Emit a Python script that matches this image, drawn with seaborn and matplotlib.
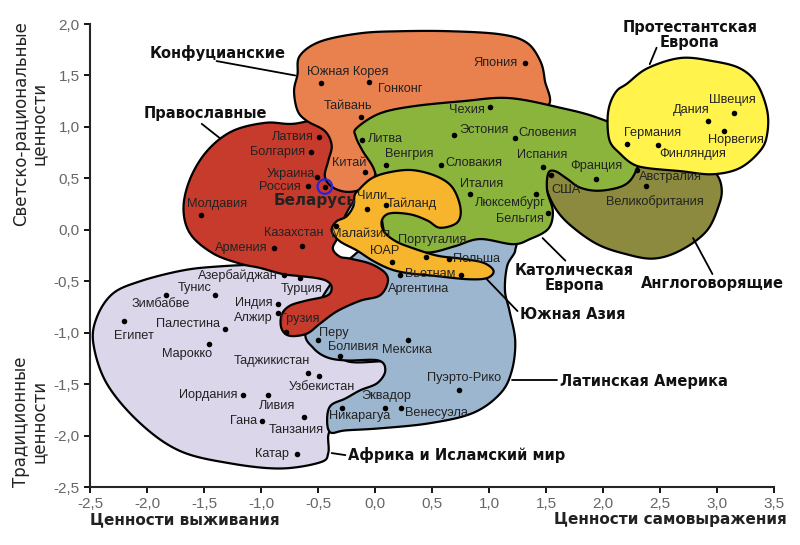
import numpy as np
import pandas as pd
import seaborn as sns
import matplotlib.pyplot as plt
from matplotlib.ticker import FuncFormatter, MultipleLocator

# ------------------------------------------|
# Data: countries on the cultural map
# ------------------------------------------|
countries = ['Южная Корея', 'Гонконг', 'Тайвань', 'Япония', 'Латвия', 'Болгария',
             'Украина', 'Россия', 'Беларусь', 'Китай', 'Молдавия', 'Казахстан',
             'Армения', 'Литва', 'Венгрия', 'Чехия', 'Эстония', 'Словения',
             'Словакия', 'Испания', 'США', 'Франция', 'Италия', 'Люксембург',
             'Бельгия', 'Германия', 'Финляндия', 'Дания', 'Швеция', 'Норвегия',
             'Австралия', 'Великобритания', 'Чили', 'Тайланд', 'Малайзия', 'ЮАР',
             'Португалия', 'Польша', 'Вьетнам', 'Аргентина', 'Азербайджан', 'Турция',
             'Тунис', 'Зимбабве', 'Египет', 'Палестина', 'Марокко', 'Индия',
             'Алжир', 'Грузия', 'Перу', 'Боливия', 'Мексика', 'Таджикистан',
             'Узбекистан', 'Иордания', 'Ливия', 'Гана', 'Танзания', 'Катар',
             'Никарагуа', 'Эквадор', 'Венесуэла', 'Пуэрто-Рико']
survival_self = [-0.47, -0.05, -0.12, 1.32, -0.49, -0.56,
                 -0.51, -0.59, -0.44, -0.09, -1.53, -0.64,
                 -0.89, -0.11, 0.10, 1.01, 0.69, 1.23,
                 0.58, 1.47, 1.54, 1.94, 0.83, 1.41,
                 1.52, 2.21, 2.48, 2.92, 3.15, 3.06,
                 2.30, 2.38, -0.07, 0.10, -0.34, 0.15,
                 0.45, 0.65, 0.75, 0.22, -0.80, -0.66,
                 -1.40, -1.83, -2.20, -1.32, -1.46, -0.85,
                 -0.85, -0.78, -0.50, -0.31, 0.29, -0.59,
                 -0.49, -1.16, -0.94, -0.99, -0.62, -0.68,
                 -0.29, 0.09, 0.23, 0.74]
trad_secular = [1.43, 1.44, 1.10, 1.62, 0.90, 0.76,
                0.51, 0.43, 0.42, 0.56, 0.14, -0.16,
                -0.18, 0.87, 0.63, 1.19, 0.92, 0.89,
                0.63, 0.61, 0.53, 0.49, 0.35, 0.35,
                0.16, 0.83, 0.82, 1.06, 1.14, 0.96,
                0.58, 0.43, 0.20, 0.24, 0.04, -0.31,
                -0.26, -0.28, -0.44, -0.44, -0.44, -0.47,
                -0.63, -0.63, -0.89, -0.96, -1.11, -0.72,
                -0.81, -0.99, -1.07, -1.23, -1.07, -1.39,
                -1.42, -1.61, -1.61, -1.86, -1.82, -2.18,
                -1.73, -1.73, -1.73, -1.56]

# label offsets from the dot, pixels
label_offsets = [(26, 11), (31, -7), (-13, 11), (-30, 0), (-26, 0), (-34, 0),
                 (-26, 3), (-28, -1), (-10, -14), (-16, 9), (16, 11), (-8, 13),
                 (-32, 0), (23, 1), (23, 11), (-23, -3), (30, 5), (32, 5),
                 (33, 2), (0, 12), (15, -15), (0, 13), (12, 10), (-25, -9),
                 (-28, -6), (26, 11), (35, -9), (-17, 11), (-2, 13), (12, -9),
                 (33, -7), (9, -16), (5, 13), (25, 1), (24, -8), (-7, 11),
                 (6, 17), (27, 0), (-30, 1), (19, -14), (-46, 0), (2, -11),
                 (-21, 7), (-6, -9), (10, -15), (-37, 5), (-21, -10), (-24, 1),
                 (-25, -5), (14, 13), (16, 7), (14, 9), (-1, -10), (-36, 12),
                 (3, -11), (-35, 0), (9, -11), (-19, 0), (-8, -13), (-25, 0),
                 (18, -8), (1, 12), (35, -5), (5, 12)]

# ------------------------------------------|
# Cultural zones (outline control points)
# ------------------------------------------|
africa_x = [-2.30, -2.06, -1.71, -1.42, -0.98, -0.66, -0.39, -0.31, -0.35, -0.26, 0.18, 0.18,
            -0.13, -0.31, -0.37, -0.41, -0.41, -0.48, -0.83, -1.27, -1.71, -2.06, -2.35, -2.47, -2.44]
africa_y = [-0.62, -0.50, -0.40, -0.36, -0.34, -0.38, -0.50, -0.69, -0.98, -1.27, -1.29, -1.52,
            -1.59, -1.76, -1.90, -2.00, -2.17, -2.26, -2.32, -2.27, -2.15, -1.88, -1.50, -1.11, -0.85]

latin_x = [-0.22, 0.04, 0.66, 1.18, 1.23, 1.16, 1.14, 1.18, 1.23, 1.20, 1.10, 0.86, 0.48, 0.04,
           -0.26, -0.39, -0.42, -0.39, -0.26, -0.13, 0.02, 0.09, 0.03, -0.25, -0.42, -0.54, -0.61,
           -0.48, -0.31]
latin_y = [-0.28, -0.11, -0.06, -0.09, -0.20, -0.35, -0.59, -0.79, -1.08, -1.37, -1.59, -1.78,
           -1.88, -1.93, -1.95, -1.97, -1.85, -1.71, -1.64, -1.56, -1.49, -1.37, -1.27, -1.27,
           -1.24, -1.15, -1.00, -0.69, -0.40]

orthodox_x = [-0.96, -0.72, -0.39, -0.13, 0.00, -0.15, -0.26, -0.32, -0.37, -0.31, -0.22, -0.04,
              0.09, 0.11, 0.04, -0.13, -0.33, -0.48, -0.60, -0.75, -0.82, -0.82, -0.75, -0.61,
              -0.42, -0.38, -0.42, -0.51, -0.66, -0.81, -1.01, -1.18, -1.42, -1.62, -1.68, -1.62,
              -1.47, -1.25]
orthodox_y = [1.04, 1.03, 1.08, 0.91, 0.48, 0.33, 0.14, -0.06, -0.18, -0.26, -0.28, -0.33,
              -0.42, -0.52, -0.64, -0.69, -0.79, -0.91, -1.01, -1.03, -0.96, -0.83, -0.74, -0.69,
              -0.64, -0.56, -0.50, -0.47, -0.45, -0.43, -0.37, -0.33, -0.23, -0.04, 0.21, 0.50,
              0.77, 0.96]

confucian_x = [-0.68, -0.66, -0.48, -0.13, 0.22, 0.66, 1.10, 1.33, 1.45, 1.49, 1.51, 1.10, 0.39,
               0.04, 0.03, -0.02, -0.13, -0.26, -0.38, -0.44, -0.41, -0.38, -0.44, -0.60, -0.68,
               -0.71]
confucian_y = [1.51, 1.69, 1.83, 1.91, 1.93, 1.93, 1.90, 1.82, 1.64, 1.45, 1.20, 1.14, 1.08,
               0.86, 0.67, 0.48, 0.39, 0.37, 0.42, 0.52, 0.67, 0.82, 0.96, 1.06, 1.16, 1.35]

english_x = [1.49, 1.62, 1.97, 2.32, 2.85, 2.99, 3.04, 3.02, 2.91, 2.68, 2.44, 2.18, 1.95, 1.74,
             1.60, 1.51]
english_y = [0.57, 0.67, 0.59, 0.77, 0.69, 0.55, 0.41, 0.25, -0.01, -0.20, -0.28, -0.23, -0.14,
             0.02, 0.18, 0.38]

catholic_x = [-0.16, 0.04, 0.33, 0.77, 1.18, 1.65, 1.95, 2.19, 2.31, 2.28, 2.18, 1.97, 1.80,
              1.68, 1.58, 1.52, 1.51, 1.56, 1.52, 1.36, 1.21, 0.92, 0.70, 0.48, 0.22, 0.09,
              0.03, -0.01, -0.11, -0.17]
catholic_y = [0.99, 1.13, 1.20, 1.25, 1.28, 1.18, 1.09, 0.96, 0.72, 0.55, 0.43, 0.38, 0.41,
              0.50, 0.57, 0.55, 0.38, 0.18, 0.01, -0.09, -0.14, -0.09, -0.16, -0.22, -0.20,
              -0.06, 0.38, 0.59, 0.77, 0.91]

s_asia_x = [-0.15, -0.03, 0.13, 0.33, 0.54, 0.68, 0.75, 0.72, 0.57, 0.46, 0.31, 0.13, 0.06,
            0.08, 0.18, 0.31, 0.54, 0.75, 0.95, 1.04, 0.98, 0.81, 0.54, 0.28, 0.13, -0.02,
            -0.16, -0.31, -0.38, -0.34, -0.25, -0.19, -0.18]
s_asia_y = [0.38, 0.50, 0.56, 0.58, 0.52, 0.41, 0.21, 0.07, 0.02, 0.09, 0.15, 0.16, 0.09,
            -0.02, -0.11, -0.17, -0.25, -0.28, -0.32, -0.40, -0.47, -0.48, -0.45, -0.42, -0.38,
            -0.30, -0.20, -0.11, -0.01, 0.08, 0.13, 0.23, 0.33]

protestant_x = [2.21, 2.39, 2.68, 2.96, 3.20, 3.35, 3.44, 3.44, 3.38, 3.20, 2.96, 2.68, 2.39,
                2.26, 2.15, 2.06, 2.04, 2.06, 2.12]
protestant_y = [1.42, 1.57, 1.67, 1.64, 1.57, 1.42, 1.16, 0.93, 0.77, 0.60, 0.54, 0.57, 0.60,
                0.64, 0.74, 0.86, 1.06, 1.22, 1.35]

zones = [
    ('Африка и Исламский мир', africa_x, africa_y, '#DCD6EB'),
    ('Латинская Америка', latin_x, latin_y, '#9DB6CF'),
    ('Православные', orthodox_x, orthodox_y, '#C63B2C'),
    ('Конфуцианские', confucian_x, confucian_y, '#E9814F'),
    ('Англоговорящие', english_x, english_y, '#8C8A3E'),
    ('Католическая\nЕвропа', catholic_x, catholic_y, '#8BB43D'),
    ('Южная Азия', s_asia_x, s_asia_y, '#F6B52D'),
    ('Протестантская\nЕвропа', protestant_x, protestant_y, '#FFF34C'),
]

# zone label: text position, alignment, leader line start/end
zone_labels = {
    'Конфуцианские': ((-1.38, 1.72), 'center', (-1.39, 1.64), (-0.70, 1.50)),
    'Православные': ((-1.49, 1.13), 'center', (-1.52, 1.03), (-1.36, 0.89)),
    'Протестантская\nЕвропа': ((2.76, 1.89), 'center', (2.47, 1.77), (2.41, 1.61)),
    'Католическая\nЕвропа': ((1.75, -0.47), 'center', (1.47, -0.08), (1.67, -0.30)),
    'Англоговорящие': ((2.96, -0.52), 'center', (2.79, -0.08), (2.96, -0.43)),
    'Южная Азия': ((1.27, -0.82), 'left', (0.98, -0.48), (1.25, -0.79)),
    'Латинская Америка': ((1.62, -1.47), 'left', (1.20, -1.46), (1.60, -1.46)),
    'Африка и Исламский мир': ((-0.24, -2.19), 'left', (-0.38, -2.17), (-0.26, -2.19)),
}


# closed Catmull-Rom curve through outline points
def smooth_outline(xs, ys, n=14):
    p = np.column_stack([xs, ys])
    m = len(p)
    t = np.linspace(0, 1, n, endpoint=False)[:, None]
    segs = []
    for i in range(m):
        p0, p1, p2, p3 = p[i - 1], p[i], p[(i + 1) % m], p[(i + 2) % m]
        seg = 0.5 * (2 * p1 + (-p0 + p2) * t + (2 * p0 - 5 * p1 + 4 * p2 - p3) * t ** 2
                     + (-p0 + 3 * p1 - 3 * p2 + p3) * t ** 3)
        segs.append(seg)
    return np.vstack(segs)


sns.set_theme(style='ticks')
plt.rcParams['font.family'] = ['DejaVu Sans']
LABEL_FONT = ['Liberation Sans Narrow', 'Liberation Sans', 'DejaVu Sans']

fig = plt.figure(figsize=(8, 5.45), dpi=100)
ax = fig.add_axes([0.1125, 0.1064, 0.855, 0.8495])

for i, (name, zx, zy, color) in enumerate(zones):
    outline = smooth_outline(zx, zy)
    ax.fill(outline[:, 0], outline[:, 1], facecolor=color, edgecolor='black',
            linewidth=1.6, zorder=2 + i)

df = pd.DataFrame({'country': countries, 'x': survival_self, 'y': trad_secular})
sns.scatterplot(data=df, x='x', y='y', color='black', s=16, linewidth=0, zorder=20, ax=ax)

for name, cx, cy, off in zip(countries, survival_self, trad_secular, label_offsets):
    if name == 'Беларусь':
        ax.scatter([cx], [cy], s=110, facecolors='none', edgecolors='#2B22E0', linewidths=1.6, zorder=21)
        ax.annotate(name, (cx, cy), xytext=off, textcoords='offset pixels', ha='center', va='center',
                    fontsize=11, fontweight='bold', color='#222222', zorder=22)
    else:
        ax.annotate(name, (cx, cy), xytext=off, textcoords='offset pixels', ha='center', va='center',
                    fontsize=9.2, color='#222222', family=LABEL_FONT, zorder=22)

for name, (pos, ha, l0, l1) in zone_labels.items():
    ax.plot([l0[0], l1[0]], [l0[1], l1[1]], color='black', lw=1.3, zorder=15, clip_on=False)
    ax.text(pos[0], pos[1], name, ha=ha, va='center', fontsize=10.5, fontweight='bold',
            color='#111111', linespacing=1.0, zorder=23, clip_on=False)

ax.set_xlim(-2.5, 3.5)
ax.set_ylim(-2.5, 2.0)
ax.xaxis.set_major_locator(MultipleLocator(0.5))
ax.yaxis.set_major_locator(MultipleLocator(0.5))
fmt = FuncFormatter(lambda v, pos: '{:.1f}'.format(v).replace('.', ','))
ax.xaxis.set_major_formatter(fmt)
ax.yaxis.set_major_formatter(fmt)
ax.tick_params(direction='out', length=4, width=1.3, color='black', labelsize=11, labelcolor='#666666')
for lab in ax.get_xticklabels() + ax.get_yticklabels():
    lab.set_family(LABEL_FONT)
ax.set_xlabel('')
ax.set_ylabel('')
sns.despine(ax=ax)
ax.spines['left'].set_linewidth(1.5)
ax.spines['bottom'].set_linewidth(1.5)
ax.set_facecolor('white')

fig.text(0.0375, 0.774, 'Светско-рациональные\nценности', rotation=90, ha='center', va='center',
         fontsize=12, color='#222222', linespacing=1.0)
fig.text(0.0375, 0.226, 'Традиционные\nценности', rotation=90, ha='center', va='center',
         fontsize=12, color='#222222', linespacing=1.0)
fig.text(0.1125, 0.046, 'Ценности выживания', ha='left', va='center', fontsize=11,
         fontweight='bold', color='#222222')
fig.text(0.984, 0.046, 'Ценности самовыражения', ha='right', va='center', fontsize=11,
         fontweight='bold', color='#222222')

fig.savefig('out.png', dpi=100)
